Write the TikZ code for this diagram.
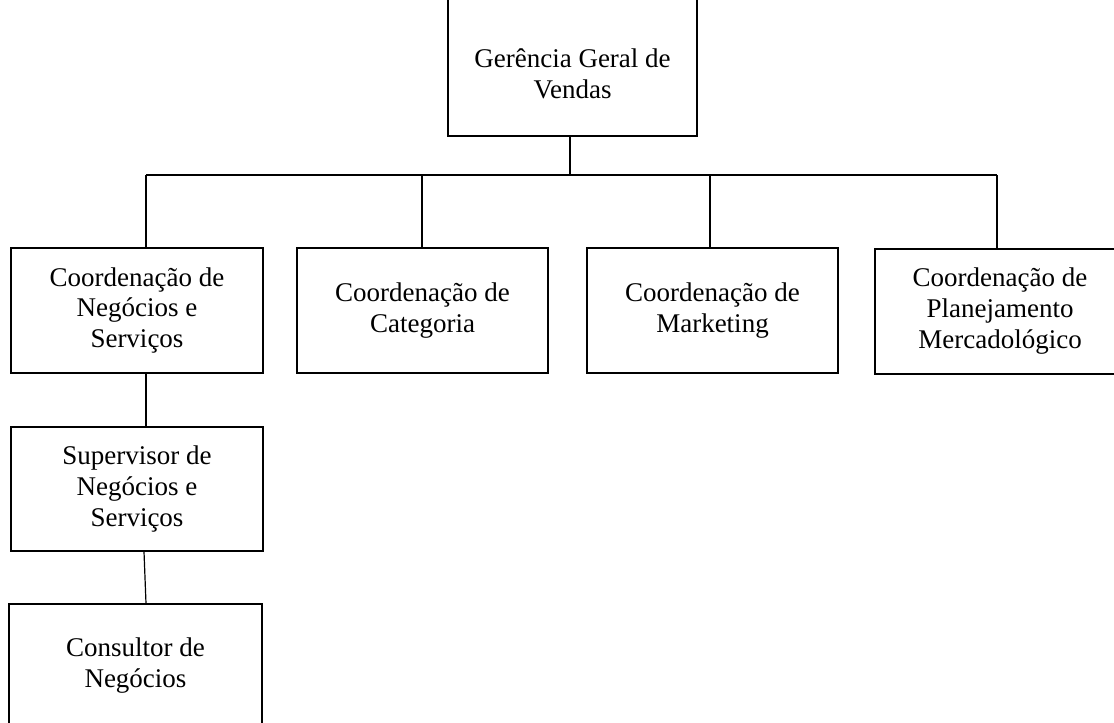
\documentclass[tikz,border=0pt]{standalone}
\usepackage{fontspec}
\setmainfont{Liberation Serif}

\begin{document}
\begin{tikzpicture}[x=0.5pt,y=-0.5pt,
  box/.style={draw, line width=0.6pt, rectangle, align=center, inner sep=0pt,
    font=\fontsize{13.5}{15.5}\selectfont, minimum height=62.5pt, minimum width=126pt},
  link/.style={line width=0.6pt}]

  \useasboundingbox (0,0) rectangle (1114,723);
  \clip (0,0) rectangle (1114,723);

  % nodes
  \node[box, minimum width=124.5pt, minimum height=69pt] (ger) at (572.5,67) {\rule{0pt}{16.5pt}Gerência Geral de\\Vendas};
  \node[box] (negocios) at (137,310.5) {Coordenação de\\Negócios e\\Serviços};
  \node[box, minimum width=125.5pt] (categoria) at (422.5,310.5) {Coordenação de\\Categoria};
  \node[box, minimum width=125.5pt] (marketing) at (712.5,310.5) {Coordenação de\\Marketing};
  \node[box, minimum width=125pt] (planej) at (1000,311.5) {Coordenação de\\Planejamento\\Mercadológico};
  \node[box, minimum height=62pt] (supervisor) at (137,489) {Supervisor de\\Negócios e\\Serviços};
  \node[box, minimum width=126.5pt, minimum height=62pt] (consultor) at (135.5,666) {Consultor de\\Negócios};

  % bus
  \coordinate (b1) at (146,175);
  \coordinate (b2) at (422,175);
  \coordinate (b3) at (710,175);
  \coordinate (b4) at (997,175);

  % lines
  \draw[link] (b1) -- (b4);
  \draw[link] (ger.south -| 570,0) -- (b1 -| 570,0);
  \draw[link] (b1) -- (b1 |- negocios.north);
  \draw[link] (b2) -- (b2 |- categoria.north);
  \draw[link] (b3) -- (b3 |- marketing.north);
  \draw[link] (b4) -- (b4 |- planej.north);
  \draw[link] (negocios.south -| b1) -- (supervisor.north -| b1);
  \draw[link] ([xshift=3.5pt]supervisor.south) -- ([xshift=5.25pt]consultor.north);

\end{tikzpicture}
\end{document}
